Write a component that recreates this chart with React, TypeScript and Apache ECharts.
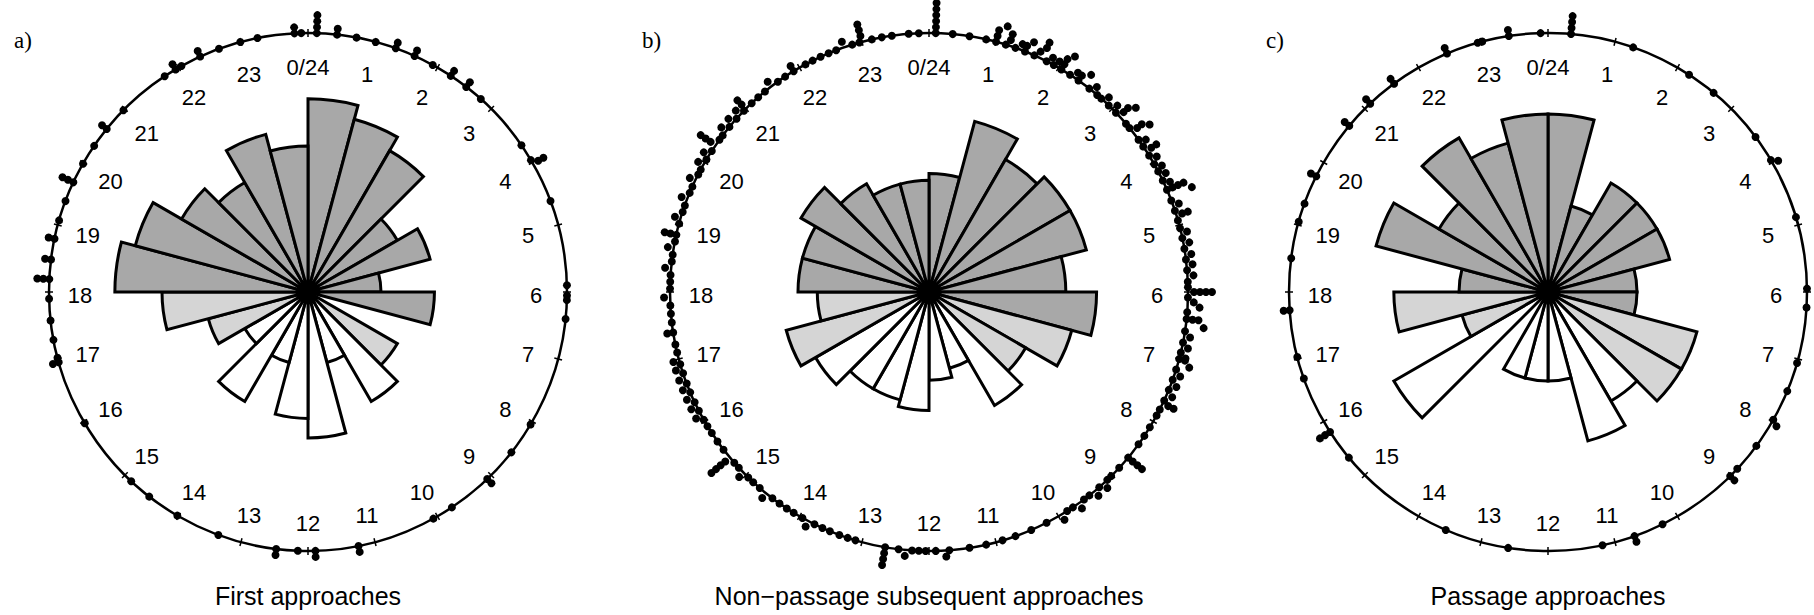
import { useEffect, useRef } from 'react';
import * as echarts from 'echarts';

// ---------- data ----------
const HOUR_STARTS = [0, 1, 2, 3, 4, 5, 6, 7, 8, 9, 10, 11, 12, 13, 14, 15, 16, 17, 18, 19, 20, 21, 22, 23];
const HOUR_LABELS = ['0/24', '1', '2', '3', '4', '5', '6', '7', '8', '9', '10', '11', '12', '13', '14', '15', '16', '17', '18', '19', '20', '21', '22', '23'];
// 0 = night, 1 = twilight, 2 = day
const PERIOD_BY_HOUR = [0, 0, 0, 0, 0, 0, 0, 1, 1, 2, 2, 2, 2, 2, 2, 2, 1, 1, 0, 0, 0, 0, 0, 0];

const PANEL_TITLES = ['First approaches', 'Non\u2212passage subsequent approaches', 'Passage approaches'];
const PANEL_LETTERS = ['a)', 'b)', 'c)'];

// counts per hour bin (bars, square-root scaled)
const COUNTS_A = [7, 6, 5, 2, 3, 1, 3, 0, 2, 3, 1, 4, 3, 1, 3, 1, 2, 4, 7, 6, 4, 3, 5, 4];
const COUNTS_B = [9, 20, 15, 17, 17, 12, 18, 14, 8, 11, 4, 5, 9, 8, 8, 11, 14, 8, 11, 11, 14, 10, 8, 8];
const COUNTS_C = [4, 1, 2, 2, 2, 1, 1, 3, 3, 2, 3, 1, 1, 1, 0, 4, 1, 3, 1, 4, 2, 4, 3, 4];

// individual approach times (hours), drawn as stacked dots on the circle
const TIMES_A = [
  0.13, 0.13, 0.13, 0.13, 0.43, 0.43, 0.72,
  1.01, 1.32, 1.32, 1.62, 1.62, 1.92,
  2.23, 2.23, 2.51, 2.51, 2.79,
  3.7, 3.96,
  4.02, 4.02, 4.63,
  5.9,
  6.05, 6.12, 6.4,
  8.05, 8.55,
  9.08, 9.08, 9.75,
  10.07,
  11.25, 11.25, 11.89, 11.89,
  12.15, 12.47, 12.47,
  13.35,
  14.02, 14.52, 14.87,
  15.97,
  16.95, 16.95,
  17.02, 17.29, 17.58, 17.9,
  18.19, 18.19, 18.19, 18.48, 18.48, 18.79, 18.79,
  19.07, 19.37, 19.67, 19.67, 19.67, 19.98,
  20.29, 20.6, 20.6, 20.97,
  21.76, 21.95, 21.95,
  22.05, 22.36, 22.36, 22.66, 22.99,
  23.25, 23.8, 23.8, 23.9,
];

const TIMES_B = [
  0.1, 0.1, 0.1, 0.1, 0.1, 0.1, 0.35, 0.6, 0.85,
  1.0, 1.0, 1.0, 1.1, 1.15, 1.2, 1.2, 1.3, 1.38, 1.45, 1.45, 1.52, 1.6, 1.66, 1.72, 1.72, 1.8, 1.86, 1.92, 1.97,
  2.05, 2.05, 2.05, 2.12, 2.2, 2.28, 2.35, 2.35, 2.45, 2.55, 2.62, 2.7, 2.78, 2.85, 2.93,
  3.02, 3.08, 3.15, 3.15, 3.22, 3.3, 3.38, 3.45, 3.45, 3.52, 3.6, 3.66, 3.72, 3.8, 3.8, 3.88, 3.95,
  4.03, 4.1, 4.15, 4.22, 4.3, 4.36, 4.45, 4.45, 4.45, 4.45, 4.55, 4.62, 4.7, 4.78, 4.85, 4.85, 4.93,
  5.05, 5.12, 5.2, 5.28, 5.36, 5.45, 5.52, 5.6, 5.68, 5.76, 5.85, 5.93,
  6.0, 6.0, 6.0, 6.0, 6.08, 6.15, 6.22, 6.3, 6.4, 6.4, 6.4, 6.5, 6.58, 6.66, 6.75, 6.82, 6.9, 6.97,
  7.0, 7.0, 7.08, 7.16, 7.24, 7.32, 7.4, 7.48, 7.56, 7.65, 7.7, 7.7, 7.8, 7.9,
  8.1, 8.25, 8.4, 8.65, 8.65, 8.65, 8.65, 8.85,
  9.02, 9.1, 9.18, 9.26, 9.35, 9.45, 9.55, 9.65, 9.75, 9.85, 9.95,
  10.2, 10.45, 10.7, 10.9,
  11.15, 11.4, 11.7, 11.75, 11.9,
  12.05, 12.15, 12.25, 12.35, 12.45, 12.65, 12.65, 12.65, 12.65,
  13.1, 13.22, 13.35, 13.5, 13.62, 13.75, 13.85, 13.95,
  14.1, 14.22, 14.35, 14.48, 14.6, 14.72, 14.85, 14.95,
  15.05, 15.15, 15.25, 15.35, 15.35, 15.35, 15.35, 15.5, 15.65, 15.8, 15.92,
  16.03, 16.1, 16.18, 16.25, 16.32, 16.4, 16.48, 16.55, 16.62, 16.7, 16.78, 16.85, 16.92, 16.98,
  17.1, 17.22, 17.4, 17.4, 17.55, 17.68, 17.8, 17.92,
  18.05, 18.15, 18.25, 18.35, 18.45, 18.55, 18.65, 18.75, 18.85, 18.85, 18.85,
  19.02, 19.1, 19.2, 19.3, 19.4, 19.5, 19.6, 19.7, 19.8, 19.88, 19.96,
  20.05, 20.12, 20.2, 20.3, 20.3, 20.3, 20.4, 20.48, 20.56, 20.64, 20.72, 20.8, 20.88, 20.96,
  21.0, 21.0, 21.12, 21.25, 21.38, 21.5, 21.62, 21.75, 21.9, 21.9,
  22.1, 22.22, 22.35, 22.48, 22.6, 22.72, 22.85, 22.96,
  23.0, 23.0, 23.0, 23.15, 23.3, 23.45, 23.7, 23.85,
];

const TIMES_C = [
  0.34, 0.34, 0.34, 0.34,
  1.28,
  2.2, 2.65,
  3.55, 3.96,
  4.02, 4.88,
  5.95,
  6.23,
  7.06, 7.5, 7.97,
  8.03, 8.43, 8.87,
  9.02, 9.02,
  10.25, 10.7, 10.7,
  11.19,
  12.59,
  13.55,
  15.35, 15.82, 15.82, 15.82,
  16.7,
  17.03, 17.73, 17.73,
  18.5,
  19.05, 19.33, 19.77, 19.77,
  20.66, 20.66,
  21.11, 21.11, 21.57, 21.57,
  22.47, 22.47, 22.95,
  23.02, 23.42, 23.42, 23.89,
];

const ALL_COUNTS = [COUNTS_A, COUNTS_B, COUNTS_C];
const ALL_TIMES = [TIMES_A, TIMES_B, TIMES_C];

// ---------- layout ----------
const CENTERS = [[308, 292], [929, 292], [1548, 292]];
const CIRCLE_R = 259;
const PX_PER_SQRT = [73, 39.5, 89];
const LETTER_X = [14, 642, 1266];
const COLORS = ['#a8a8a8', '#d5d5d5', '#ffffff'];
const LABEL_R = 228;
const DOT_R = 4;
const DOT_STEP = 6;
const STACK_BIN = [0.1, 0.15, 0.1];

function stackDots(times: number[], rMax: number, bin: number) {
  const seen: Record<string, number> = {};
  return times.map((t) => {
    const key = String(Math.round(t / bin));
    const idx = seen[key] || 0;
    seen[key] = idx + 1;
    return [rMax, t, idx];
  });
}

function angleOf(p: number[], cs: any) {
  return Math.atan2(p[1] - cs.cy, p[0] - cs.cx);
}

export default function App() {
  const ref = useRef<HTMLDivElement>(null);
  useEffect(() => {
    if (!ref.current) return;
    const chart = echarts.init(ref.current, undefined, { renderer: 'svg' });
    const polar: any[] = [];
    const angleAxis: any[] = [];
    const radiusAxis: any[] = [];
    const series: any[] = [];
    const graphic: any[] = [];

    for (let i = 0; i < 3; i++) {
      const rMax = CIRCLE_R / PX_PER_SQRT[i];
      polar.push({ center: CENTERS[i], radius: CIRCLE_R });
      angleAxis.push({
        polarIndex: i, type: 'value', min: 0, max: 24, interval: 1,
        startAngle: 90, clockwise: true,
        axisLine: { show: true, lineStyle: { color: '#000', width: 2.5 } },
        axisTick: { show: false }, axisLabel: { show: false }, splitLine: { show: false },
      });
      radiusAxis.push({
        polarIndex: i, type: 'value', min: 0, max: rMax,
        axisLine: { show: false }, axisTick: { show: false }, axisLabel: { show: false }, splitLine: { show: false },
      });

      const counts = ALL_COUNTS[i];
      // bars
      series.push({
        type: 'custom', coordinateSystem: 'polar', polarIndex: i, silent: true,
        data: HOUR_STARTS.map((h) => [Math.sqrt(counts[h]), h]),
        renderItem: (params: any, api: any) => {
          const v = api.value(0);
          const h = api.value(1);
          if (!(v > 0)) return null;
          const cs = params.coordSys;
          const p = api.coord([v, h + 0.5]);
          const rad = Math.hypot(p[0] - cs.cx, p[1] - cs.cy);
          let a0 = angleOf(api.coord([rMax, h]), cs);
          let a1 = angleOf(api.coord([rMax, h + 1]), cs);
          if (a1 < a0) a1 += Math.PI * 2;
          return {
            type: 'sector',
            shape: { cx: cs.cx, cy: cs.cy, r0: 0, r: rad, startAngle: a0, endAngle: a1, clockwise: true },
            style: { fill: COLORS[PERIOD_BY_HOUR[h]], stroke: '#000', lineWidth: 3, lineJoin: 'miter' },
          };
        },
      });
      // hour ticks across the circle
      series.push({
        type: 'custom', coordinateSystem: 'polar', polarIndex: i, silent: true,
        data: HOUR_STARTS.map((h) => [rMax, h]),
        renderItem: (params: any, api: any) => {
          const cs = params.coordSys;
          const p = api.coord([api.value(0), api.value(1)]);
          const d = Math.hypot(p[0] - cs.cx, p[1] - cs.cy);
          const ux = (p[0] - cs.cx) / d, uy = (p[1] - cs.cy) / d;
          return {
            type: 'line',
            shape: { x1: p[0] - ux * 4, y1: p[1] - uy * 4, x2: p[0] + ux * 4, y2: p[1] + uy * 4 },
            style: { stroke: '#000', lineWidth: 1.5 },
          };
        },
      });
      // hour labels
      series.push({
        type: 'custom', coordinateSystem: 'polar', polarIndex: i, silent: true,
        data: HOUR_STARTS.map((h) => [rMax, h]),
        renderItem: (params: any, api: any) => {
          const cs = params.coordSys;
          const p = api.coord([api.value(0), api.value(1)]);
          const d = Math.hypot(p[0] - cs.cx, p[1] - cs.cy);
          const ux = (p[0] - cs.cx) / d, uy = (p[1] - cs.cy) / d;
          return {
            type: 'text',
            x: cs.cx + ux * LABEL_R,
            y: cs.cy + uy * LABEL_R + 3,
            style: {
              text: HOUR_LABELS[params.dataIndex],
              fontSize: 22, fontFamily: '"Liberation Sans", Arial, sans-serif',
              fill: '#000', align: 'center', verticalAlign: 'middle',
            },
          };
        },
      });
      // stacked dots
      series.push({
        type: 'custom', coordinateSystem: 'polar', polarIndex: i, silent: true,
        data: stackDots(ALL_TIMES[i], rMax, STACK_BIN[i]),
        renderItem: (params: any, api: any) => {
          const cs = params.coordSys;
          const p = api.coord([api.value(0), api.value(1)]);
          const k = api.value(2);
          const d = Math.hypot(p[0] - cs.cx, p[1] - cs.cy);
          const ux = (p[0] - cs.cx) / d, uy = (p[1] - cs.cy) / d;
          return {
            type: 'circle',
            shape: { cx: p[0] + ux * k * DOT_STEP, cy: p[1] + uy * k * DOT_STEP, r: DOT_R },
            style: { fill: '#000' },
          };
        },
      });

      graphic.push({
        type: 'text', x: CENTERS[i][0], y: 596,
        style: {
          text: PANEL_TITLES[i], fontSize: 25, fontFamily: '"Liberation Sans", Arial, sans-serif',
          fill: '#000', align: 'center', verticalAlign: 'middle',
        },
      });
      graphic.push({
        type: 'text', x: LETTER_X[i], y: 40,
        style: {
          text: PANEL_LETTERS[i], fontSize: 23, fontFamily: '"Liberation Serif", "Times New Roman", serif',
          fill: '#000', align: 'left', verticalAlign: 'middle',
        },
      });
    }

    chart.setOption({
      animation: false,
      backgroundColor: '#fff',
      polar, angleAxis, radiusAxis, series, graphic,
    });
    return () => chart.dispose();
  }, []);
  return <div ref={ref} style={{ position: 'fixed', left: 0, top: 0, width: 1814, height: 615 }} />;
}
